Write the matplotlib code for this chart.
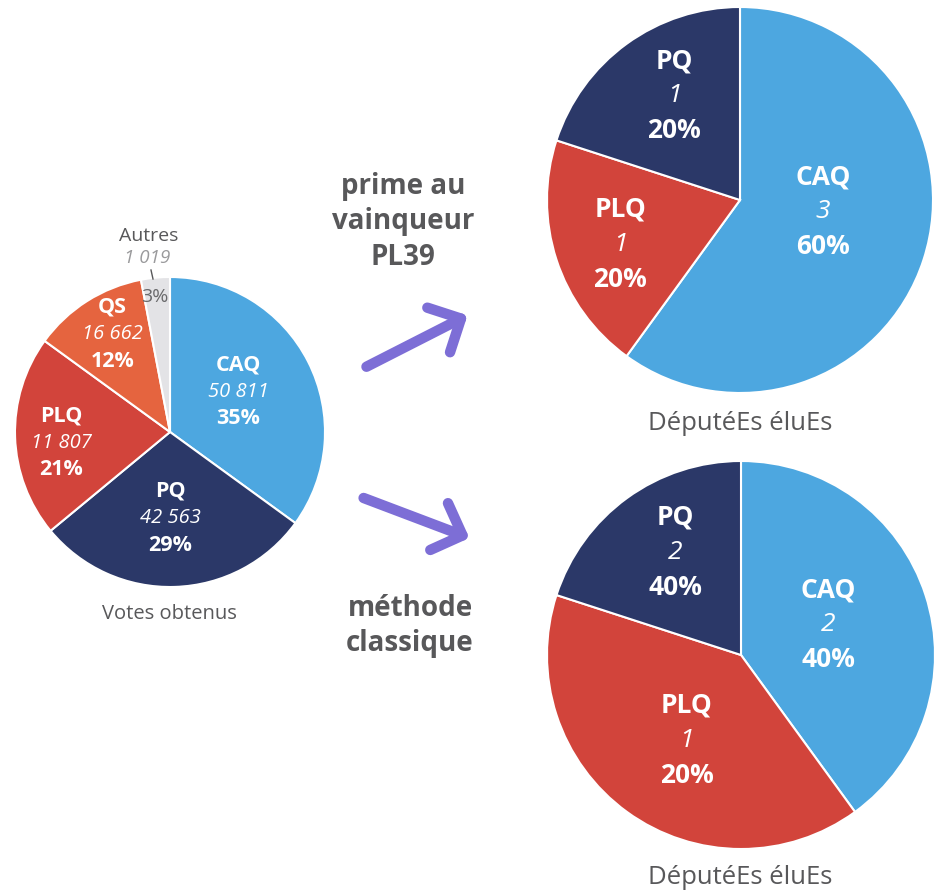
import matplotlib
matplotlib.use("Agg")
import matplotlib.pyplot as plt
from matplotlib.patches import FancyArrowPatch

plt.rcParams['font.family'] = ['Open Sans', 'DejaVu Sans']

## data
vote_parties = ["CAQ", "PQ", "PLQ", "QS", "Autres"]
vote_counts = ["50 811", "42 563", "11 807", "16 662", "1 019"]
vote_pcts = [35, 29, 21, 12, 3]

prime_parties = ["CAQ", "PLQ", "PQ"]
prime_seats = ["3", "1", "1"]
prime_pcts = [60, 20, 20]

classic_parties = ["CAQ", "PLQ", "PQ"]
classic_seats = ["2", "1", "2"]
classic_labels_pct = ["40%", "20%", "40%"]
classic_slices = [40, 40, 20]

colors = {"CAQ": "#4da7e0", "PQ": "#2b3868", "PLQ": "#d2443b",
          "QS": "#e5643f", "Autres": "#e3e3e6"}
grey = "#58585a"
purple = "#7d6ed6"

W, H = 942, 893
fig = plt.figure(figsize=(W / 100, H / 100), dpi=100)


def pie_axes(cx, cy, r):
    ax = fig.add_axes([(cx - r) / W, 1 - (cy + r) / H, 2 * r / W, 2 * r / H])
    return ax


def finish(ax):
    ax.set_xlim(-1, 1)
    ax.set_ylim(-1, 1)
    ax.set_aspect('equal')
    ax.axis('off')


## votes pie
ax = pie_axes(170, 432, 155)
ax.pie(vote_pcts, colors=[colors[p] for p in vote_parties], startangle=90,
       counterclock=False, radius=1,
       wedgeprops=dict(edgecolor='white', linewidth=1.5))
finish(ax)

## prime au vainqueur pie
ax = pie_axes(740, 200, 193)
ax.pie(prime_pcts, colors=[colors[p] for p in prime_parties], startangle=90,
       counterclock=False, radius=1,
       wedgeprops=dict(edgecolor='white', linewidth=1.5))
finish(ax)

## classic pie
ax = pie_axes(741, 655, 194)
ax.pie(classic_slices, colors=[colors[p] for p in classic_parties], startangle=90,
       counterclock=False, radius=1,
       wedgeprops=dict(edgecolor='white', linewidth=1.5))
finish(ax)

## overlay axes in pixel coords for text and arrows (on top of pies)
bg = fig.add_axes([0, 0, 1, 1])
bg.set_xlim(0, W)
bg.set_ylim(H, 0)
bg.axis('off')
bg.set_zorder(10)


def label3(cx, cy, r, off, top, mid, bot, size, gap, midsize=None):
    x = cx + off[0] * r
    y = cy - off[1] * r
    bg.text(x, y - gap, top, ha='center', va='center', color='white',
            fontsize=size, fontweight='bold')
    bg.text(x, y, mid, ha='center', va='center', color='white',
            fontsize=midsize or size, fontstyle='italic')
    bg.text(x, y + gap, bot, ha='center', va='center', color='white',
            fontsize=size, fontweight='bold')


offs = [(0.44, 0.26), (0.0, -0.555), (-0.70, -0.07), (-0.37, 0.63)]
for i in range(4):
    label3(170, 432, 155, offs[i], vote_parties[i], vote_counts[i],
           str(vote_pcts[i]) + "%", 15.5, 27, midsize=14.5)
bg.text(149, 236, vote_parties[4], ha='center', va='center', color=grey, fontsize=14)
bg.text(147, 258, vote_counts[4], ha='center', va='center', color='#9a9a9c',
        fontsize=13.5, fontstyle='italic')
bg.plot([151, 153], [270, 279], color=grey, lw=1)
bg.text(155, 297, str(vote_pcts[4]) + "%", ha='center', va='center', color='#6a6a6c',
        fontsize=14)
bg.text(169, 614, "Votes obtenus", ha='center', va='center', color=grey, fontsize=14.5)

offs = [(0.43, -0.06), (-0.62, -0.23), (-0.34, 0.54)]
for i in range(3):
    label3(740, 200, 193, offs[i], prime_parties[i], prime_seats[i],
           str(prime_pcts[i]) + "%", 19, 35)
bg.text(740, 424, "DéputéEs éluEs", ha='center', va='center', color=grey, fontsize=18.5)

offs = [(0.45, 0.155), (-0.28, -0.44), (-0.34, 0.53)]
for i in range(3):
    label3(741, 655, 194, offs[i], classic_parties[i], classic_seats[i],
           classic_labels_pct[i], 19, 35)
bg.text(740, 878, "DéputéEs éluEs", ha='center', va='center', color=grey, fontsize=18.5)

## middle titles and arrows
bg.text(403, 222, "prime au\nvainqueur\nPL39", ha='center', va='center', color=grey,
        fontsize=20, fontweight='bold', linespacing=1.3)
bg.text(410, 626, "méthode\nclassique", ha='center', va='center', color=grey,
        fontsize=20, fontweight='bold', linespacing=1.3)

for start, end in [((364, 368), (470, 314)), ((361, 497), (472, 539))]:
    arr = FancyArrowPatch(start, end, arrowstyle='->,head_length=0.9,head_width=0.9',
                          color=purple, lw=7.5, capstyle='round', joinstyle='round',
                          mutation_scale=20)
    bg.add_patch(arr)

plt.savefig('out.png', dpi=100)
